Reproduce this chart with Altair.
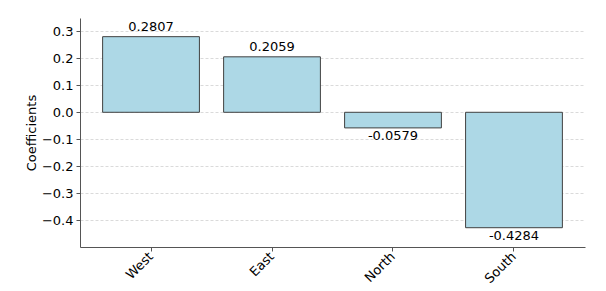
import altair as alt
import pandas as pd

regions = ["West", "East", "North", "South"]
coefficients = [0.2807, 0.2059, -0.0579, -0.4284]
y_ticks = [-0.4, -0.3, -0.2, -0.1, 0.0, 0.1, 0.2, 0.3]

df = pd.DataFrame({
    "region": regions,
    "coef": coefficients,
    "label": [f"{v:.4f}" for v in coefficients],
})

FONT = "DejaVu Sans"
FS = 13

x = alt.X("region:N", sort=regions, title=None,
          scale=alt.Scale(paddingInner=0.2, paddingOuter=0.187),
          axis=alt.Axis(labelAngle=-45, labelAlign="right", labelBaseline="middle",
                        labelFontSize=FS, labelColor="black", labelFont=FONT,
                        tickColor="#555555", tickSize=4, domainColor="#555555",
                        labelPadding=3, grid=False, labelOverlap=False))
y = alt.Y("coef:Q", title="Coefficients",
          scale=alt.Scale(domain=[-0.5, 0.35], nice=False, zero=False),
          axis=alt.Axis(values=y_ticks, format=".1f", labelFontSize=FS, labelColor="black",
                        labelFont=FONT, titleFont=FONT, titleFontSize=FS, titleFontWeight="normal",
                        titleColor="black", titlePadding=3, labelOverlap=False, labelPadding=3,
                        tickColor="#555555", tickSize=4, domainColor="#555555",
                        grid=True, gridDash=[3, 2], gridColor="#d0d0d0", gridWidth=0.8))

base = alt.Chart(df)
bars = base.mark_bar(color="#ADD8E6", stroke="#404040", strokeWidth=1).encode(x=x, y=y)

pos = base.transform_filter("datum.coef >= 0").mark_text(
    baseline="bottom", dy=-3, fontSize=FS, font=FONT, color="black").encode(
    x=x, y=y, text="label:N")
neg = base.transform_filter("datum.coef < 0").mark_text(
    baseline="top", dy=2, fontSize=FS, font=FONT, color="black").encode(
    x=x, y=y, text="label:N")

chart = alt.layer(bars, pos, neg).properties(
    width=505, height=229,
    background="white",
    autosize=alt.AutoSizeParams(type="none"),
    padding={"left": 72, "top": 10, "right": 13, "bottom": 44},
).configure_view(stroke=None)

chart.save("out.html", embed_options={"renderer": "svg", "actions": False})
